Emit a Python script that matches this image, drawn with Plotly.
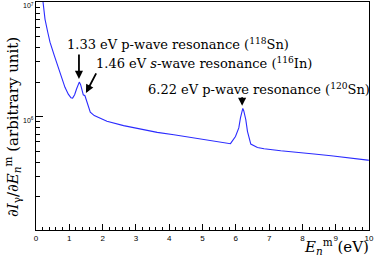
import plotly.graph_objects as go
import math

# Spectrum (neutron energy in eV, dI/dE in arbitrary units)
energy = [0.18, 0.21, 0.27, 0.35, 0.42, 0.55, 0.66, 0.78, 0.87, 0.97, 1.05, 1.10, 1.16, 1.22,
          1.27, 1.30, 1.34, 1.38, 1.42, 1.47, 1.52, 1.57, 1.63, 1.75, 1.93, 2.13, 2.63, 3.13,
          3.64, 4.14, 4.64, 5.14, 5.64, 5.84, 5.99, 6.09, 6.14, 6.18, 6.21, 6.24, 6.30, 6.35,
          6.45, 6.65, 6.85, 7.35, 7.85, 8.35, 8.86, 9.36, 9.96, 10.0]
intensity = [1.2e7, 1.0e7, 7.1e6, 5.5e6, 4.46e6, 3.4e6, 2.77e6, 2.15e6, 1.8e6, 1.57e6, 1.46e6,
             1.45e6, 1.55e6, 1.75e6, 1.95e6, 2.0e6, 1.9e6, 1.65e6, 1.55e6, 1.52e6, 1.38e6,
             1.23e6, 1.09e6, 1.02e6, 9.7e5, 9.1e5, 8.34e5, 7.8e5, 7.28e5, 6.95e5, 6.58e5,
             6.28e5, 5.87e5, 5.8e5, 6.7e5, 7.96e5, 9.75e5, 1.12e6, 1.18e6, 1.12e6, 9.4e5,
             7.43e5, 5.76e5, 5.38e5, 5.24e5, 5.03e5, 4.9e5, 4.71e5, 4.55e5, 4.40e5, 4.17e5, 4.15e5]

# Resonance labels and arrow tips
res_text = ["1.33 eV p-wave resonance (<sup>118</sup>Sn)",
            "1.46 eV <i>s</i>-wave resonance (<sup>116</sup>In)",
            "6.22 eV p-wave resonance (<sup>120</sup>Sn)"]
res_tip_e = [1.29, 1.50, 6.19]
res_tip_v = [2.13e6, 1.61e6, 1.24e6]

x_ticks = list(range(0, 11))
y_major = [1e6, 1e7]
y_major_text = ["10<sup>6</sup>", "10<sup>7</sup>"]
y_minor = [k * 1e5 for k in range(2, 10)] + [k * 1e6 for k in range(2, 10)]

SERIF = "DejaVu Serif"
SANS = "Liberation Sans"

fig = go.Figure()
fig.add_trace(go.Scatter(x=energy, y=intensity, mode="lines",
                         line=dict(color="#2b2bff", width=1.1), showlegend=False,
                         hoverinfo="skip"))

# Label positions (pixel based, converted to paper)
L, R, T, B, W, H = 36, 5, 2, 30, 374, 260
PW, PH = W - L - R, H - T - B
def px(x): return (x - L) / PW
def py(y): return (H - B - y) / PH

label_pos = [(65, 44), (94, 62.5), (146, 88.5)]
for txt, (lx, ly) in zip(res_text, label_pos):
    fig.add_annotation(text=txt, xref="paper", yref="paper", x=px(lx), y=py(ly),
                       xanchor="left", yanchor="middle", showarrow=False,
                       font=dict(family=SERIF, size=13.0, color="black"))

arrow_tail = [(0, -26), (11, -21), (0, -10)]
for e, v, (ax, ay) in zip(res_tip_e, res_tip_v, arrow_tail):
    fig.add_annotation(x=e, y=math.log10(v), xref="x", yref="y", text="",
                       showarrow=True, ax=ax, ay=ay, axref="pixel", ayref="pixel",
                       arrowhead=2, arrowsize=0.9, arrowwidth=1.8, arrowcolor="black")

# Axis titles
fig.add_annotation(text="∂<i>I</i><sub>γ</sub>/∂<i>E</i><sub><i>n</i></sub><sup>m</sup> (arbitrary unit)",
                   xref="paper", yref="paper", x=px(12), y=py(127), textangle=-90,
                   xanchor="center", yanchor="middle", showarrow=False,
                   font=dict(family=SERIF, size=15, color="black"))
fig.add_annotation(text="<i>E</i><sub><i>n</i></sub><sup>m</sup> (eV)",
                   xref="paper", yref="paper", x=px(371), y=py(247),
                   xanchor="right", yanchor="middle", showarrow=False,
                   font=dict(family=SERIF, size=15, color="black"))

fig.update_xaxes(range=[0, 10], tickvals=x_ticks, ticks="inside", ticklen=6,
                 tickcolor="black", tickwidth=1, showline=True, linecolor="black",
                 linewidth=1, mirror=True, showgrid=False, zeroline=False,
                 automargin=False,
                 tickfont=dict(family=SANS, size=8, color="black"),
                 minor=dict(ticks="inside", ticklen=3, dtick=0.2, tickcolor="black",
                            showgrid=False))
fig.update_yaxes(type="log", range=[5.01, 7.0], tickvals=y_major, ticktext=y_major_text,
                 ticks="inside", ticklen=7, tickcolor="black", tickwidth=1,
                 showline=True, linecolor="black", linewidth=1, mirror=True,
                 showgrid=False, zeroline=False, automargin=False,
                 ticklabeloverflow="allow", ticklabelshift=4,
                 tickfont=dict(family=SANS, size=7, color="black"),
                 minor=dict(ticks="inside", ticklen=4, tickvals=y_minor,
                            tickcolor="black", showgrid=False))

fig.update_layout(width=W, height=H, margin=dict(l=L, r=R, t=T, b=B),
                  paper_bgcolor="white", plot_bgcolor="white")

fig.write_html("out.html", config={"displayModeBar": False},
               post_script="document.body.style.margin='0';document.body.style.overflow='hidden';")
